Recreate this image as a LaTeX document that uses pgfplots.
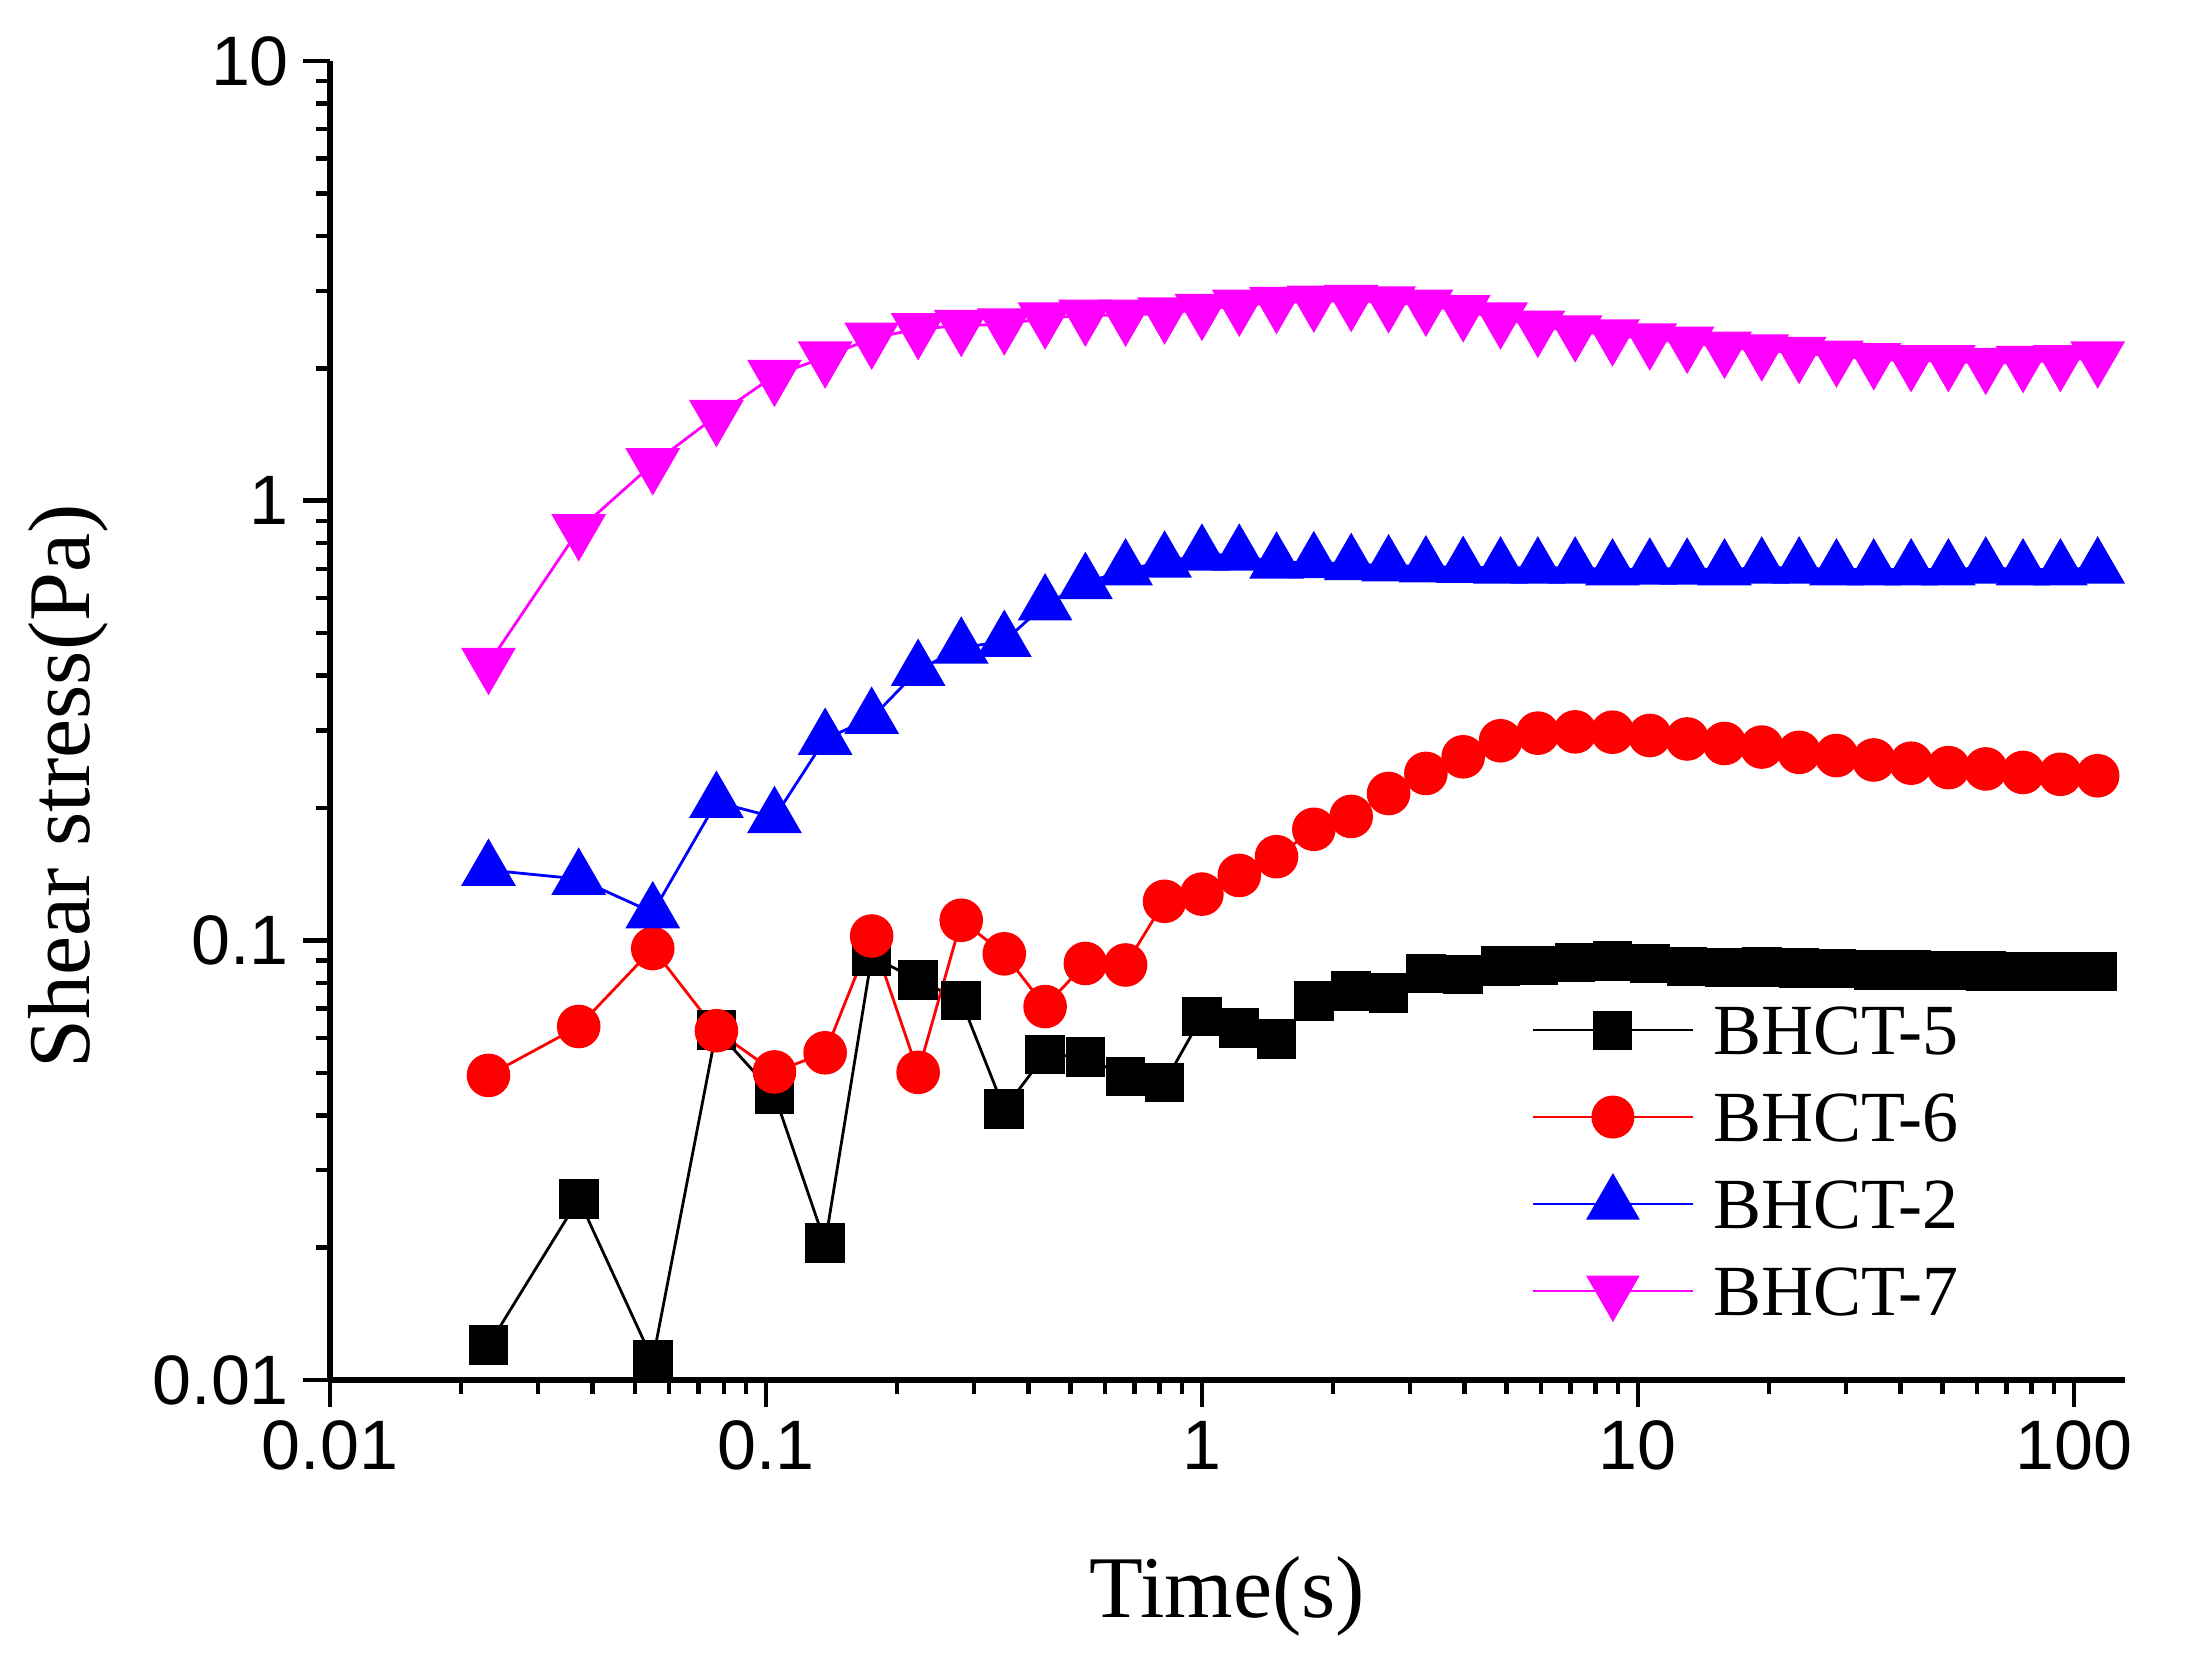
\documentclass[border=0pt]{standalone}
\usepackage{fontspec}
\setmainfont{Liberation Serif}
\newfontfamily\arialfont{Liberation Sans}
\usepackage{pgfplots}
\usepackage{pgfplotstable}
\pgfplotsset{compat=1.18}
\definecolor{mag}{RGB}{255,0,255}
\definecolor{rd}{RGB}{255,0,0}
\definecolor{bl}{RGB}{0,0,255}

% t (s), BHCT-5, BHCT-6, BHCT-2, BHCT-7 (Pa)
\pgfplotstableread{
t       b5      b6      b2      b7
0.0231  0.0120  0.0493  0.1445  0.426
0.0372  0.0258  0.0637  0.1379  0.858
0.0550  0.0111  0.0958  0.1157  1.212
0.0770  0.0625  0.0623  0.2063  1.560
0.1046  0.0446  0.0502  0.1905  1.926
0.1367  0.0205  0.0555  0.2870  2.12
0.1748  0.0918  0.1023  0.3204  2.34
0.2234  0.0813  0.0501  0.4118  2.46
0.2805  0.0730  0.1111  0.4627  2.50
0.3521  0.0413  0.0932  0.4794  2.52
0.4368  0.0550  0.0707  0.580   2.60
0.5403  0.0543  0.0886  0.649   2.64
0.6682  0.0490  0.0879  0.697   2.64
0.8210  0.0475  0.1227  0.726   2.67
1.0     0.0671  0.1274  0.753   2.72
1.218   0.0631  0.1405  0.753   2.78
1.483   0.0597  0.1550  0.722   2.82
1.806   0.0728  0.1789  0.724   2.84
2.200   0.0767  0.1914  0.717   2.85
2.680   0.0760  0.2158  0.712   2.83
3.264   0.0840  0.2397  0.708   2.78
3.975   0.0837  0.2615  0.706   2.70
4.841   0.0875  0.2844  0.704   2.60
5.896   0.0877  0.2960  0.704   2.49
7.180   0.0890  0.2980  0.704   2.43
8.745   0.0898  0.2975  0.697   2.38
10.65   0.0885  0.2924  0.700   2.33
12.97   0.0872  0.2871  0.700   2.29
15.80   0.0868  0.2804  0.697   2.23
19.24   0.0869  0.2752  0.704   2.20
23.43   0.0864  0.2677  0.704   2.17
28.54   0.0863  0.2632  0.697   2.13
34.76   0.0856  0.2572  0.697   2.10
42.33   0.0855  0.2529  0.697   2.08
51.55   0.0854  0.2471  0.697   2.08
62.79   0.0851  0.2454  0.704   2.05
76.47   0.0850  0.2409  0.697   2.07
93.13   0.0850  0.2386  0.697   2.08
113.4   0.0849  0.2368  0.704   2.12
}\shear

\begin{document}
\begin{tikzpicture}
\begin{axis}[
  at={(0pt,0pt)}, anchor=south west,
  scale only axis, width=448.75pt, height=329.75pt,
  xmode=log, ymode=log,
  xmin=0.01, xmax=131, ymin=0.01, ymax=10,
  axis lines=left,
  axis line style={-, line width=1.3pt},
  xtick={0.01,0.1,1,10,100}, xticklabels={0.01,0.1,1,10,100},
  ytick={0.01,0.1,1,10}, yticklabels={0.01,0.1,1,10},
  minor xtick={0.02,0.03,0.04,0.05,0.06,0.07,0.08,0.09,
    0.2,0.3,0.4,0.5,0.6,0.7,0.8,0.9,2,3,4,5,6,7,8,9,
    20,30,40,50,60,70,80,90},
  minor ytick={0.02,0.03,0.04,0.05,0.06,0.07,0.08,0.09,
    0.2,0.3,0.4,0.5,0.6,0.7,0.8,0.9,2,3,4,5,6,7,8,9},
  tick align=outside,
  major tick length=6.75pt, minor tick length=3.5pt,
  tick style={line width=1.1pt, black},
  ticklabel style={font=\arialfont\fontsize{17.5}{17.5}\selectfont},
  xlabel={Time(s)}, ylabel={Shear stress(Pa)},
  label style={font=\fontsize{22}{22}\selectfont},
  xlabel style={at={(axis description cs:0.5,-0.1797)}, anchor=base},
  ylabel style={at={(axis description cs:-0.1337,0.45)}, anchor=base},
  legend cell align=left,
  legend style={draw=none, fill=none, inner sep=0pt,
    at={(axis description cs:0.6691,0.1664)}, anchor=west,
    font=\fontsize{18}{18}\selectfont,
    nodes={inner sep=0pt, text height=12pt, text depth=0pt},
    row sep=5.75pt,
    /tikz/every odd column/.append style={column sep=4.75pt}},
  legend image code/.code={
    \path[draw=none, fill=none] (0pt,-8pt) (40pt,8pt);
    \draw[mark repeat=2, mark phase=2, #1, line width=0.55pt]
      plot coordinates {(0pt,0pt) (20pt,0pt) (40pt,0pt)};},
  every axis plot/.append style={line width=0.7pt},
]
\addplot[black, mark=square*, mark size=4.6pt, mark options={solid, fill=black}]
  table[x=t, y=b5] {\shear};
\addlegendentry{BHCT-5}
\addplot[rd, mark=*, mark size=5.1pt, mark options={solid, fill=rd}]
  table[x=t, y=b6] {\shear};
\addlegendentry{BHCT-6}
\addplot[bl, mark=triangle*, mark size=7.2pt, mark options={solid, fill=bl}]
  table[x=t, y=b2] {\shear};
\addlegendentry{BHCT-2}
\addplot[mag, mark=triangle*, mark size=7.2pt,
  mark options={solid, fill=mag, rotate=180}]
  table[x=t, y=b7] {\shear};
\addlegendentry{BHCT-7}
\end{axis}
\pgfresetboundingbox
\useasboundingbox (-82.5pt,-70.25pt) rectangle (465pt,345pt);
\end{tikzpicture}
\end{document}
